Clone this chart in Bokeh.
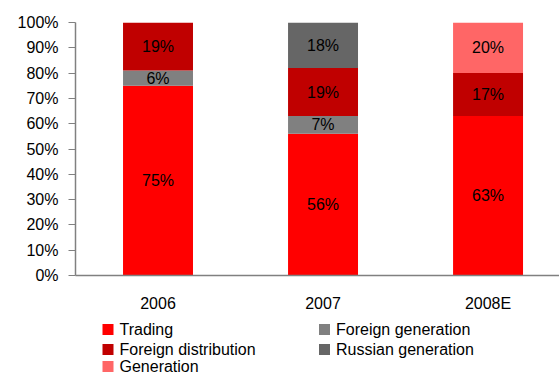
from bokeh.plotting import figure
from bokeh.layouts import column
from bokeh.models import (ColumnDataSource, Range1d, FixedTicker, NumeralTickFormatter)
from bokeh.core.properties import value
from bokeh.embed import file_html
from bokeh.resources import INLINE

# ---- data ----
years = ["2006", "2007", "2008E"]
trading = [75, 56, 63]
foreign_generation = [6, 7, 0]
foreign_distribution = [19, 19, 17]
russian_generation = [0, 18, 0]
generation = [0, 0, 20]
series_names = ["Trading", "Foreign generation", "Foreign distribution",
                "Russian generation", "Generation"]
series_values = [trading, foreign_generation, foreign_distribution,
                 russian_generation, generation]
series_colors = ["#FF0000", "#808080", "#C00000", "#666666", "#FF6666"]
y_ticks = [0, 10, 20, 30, 40, 50, 60, 70, 80, 90, 100]

FONT = "Liberation Sans"

xs = [i + 0.5 for i in range(len(years))]

p = figure(width=559, height=314, output_backend="svg", toolbar_location=None,
           x_range=Range1d(0, 2.933), y_range=Range1d(0, 1),
           min_border_left=75, min_border_right=0, min_border_top=22,
           min_border_bottom=39)
p.outline_line_color = None
p.xgrid.visible = False
p.ygrid.visible = False
p.background_fill_color = "white"
p.border_fill_color = "white"

# stacked bars
bottoms = [0.0] * len(years)
lab_x, lab_y, lab_t = [], [], []
for name, vals, col in zip(series_names, series_values, series_colors):
    b = [v / 100 for v in bottoms]
    t = [(bb + v) / 100 for bb, v in zip(bottoms, vals)]
    src = ColumnDataSource(dict(x=xs, bottom=b, top=t))
    p.vbar(x="x", bottom="bottom", top="top", width=0.424, source=src,
           fill_color=col, line_color=None)
    for i, v in enumerate(vals):
        if v > 0:
            lab_x.append(xs[i])
            lab_y.append((bottoms[i] + v / 2) / 100)
            lab_t.append(f"{v}%")
    bottoms = [bb + v for bb, v in zip(bottoms, vals)]

lsrc = ColumnDataSource(dict(x=lab_x, y=lab_y, t=lab_t))
p.text(x="x", y="y", text="t", source=lsrc, text_align="center",
       text_baseline="middle", text_font=value(FONT), text_font_size="16px",
       text_color="black")

# axes
p.xaxis.ticker = FixedTicker(ticks=xs)
p.xaxis.major_label_overrides = {x: y for x, y in zip(xs, years)}
p.xaxis.major_tick_in = 0
p.xaxis.major_tick_out = 0
p.xaxis.minor_tick_line_color = None
p.xaxis.major_label_standoff = 19
p.xaxis.axis_line_color = "#808080"
p.xaxis.axis_line_width = 1.5

p.yaxis.ticker = FixedTicker(ticks=[v / 100 for v in y_ticks])
p.yaxis.formatter = NumeralTickFormatter(format="0%")
p.yaxis.major_tick_in = 0
p.yaxis.major_tick_out = 7
p.yaxis.minor_tick_line_color = None
p.yaxis.major_label_standoff = 10
p.yaxis.axis_line_color = "#808080"
p.yaxis.axis_line_width = 1.5
p.yaxis.major_tick_line_color = "#808080"

for ax in (p.xaxis, p.yaxis):
    ax.major_label_text_font = FONT
    ax.major_label_text_font_size = "16px"
    ax.major_label_text_color = "black"

# ---- legend panel (separate small figure, pixel coordinates) ----
# the column layout aligns this frame with the chart frame (x 75..559)
LH = 62
lg = figure(width=559, height=LH, output_backend="svg", toolbar_location=None,
            x_range=Range1d(75, 559), y_range=Range1d(LH, 0),
            x_axis_type=None, y_axis_type=None,
            min_border_left=75, min_border_right=0, min_border_top=0,
            min_border_bottom=0)
lg.outline_line_color = None
lg.xgrid.visible = False
lg.ygrid.visible = False

col_x = [107.5, 324]
row_y = [15, 35, 52]
sq_x = [col_x[i % 2] for i in range(len(series_names))]
sq_y = [row_y[i // 2] for i in range(len(series_names))]
lgsrc = ColumnDataSource(dict(x=sq_x, y=sq_y, tx=[x + 11.5 for x in sq_x],
                              name=series_names, color=series_colors))
lg.rect(x="x", y="y", width=11, height=11, fill_color="color", line_color=None,
        source=lgsrc)
lg.text(x="tx", y="y", text="name", source=lgsrc, text_align="left",
        text_baseline="middle", text_font=value(FONT), text_font_size="16px",
        text_color="black")

layout = column(p, lg, spacing=0)
open("out.html", "w").write(file_html(layout, INLINE))
